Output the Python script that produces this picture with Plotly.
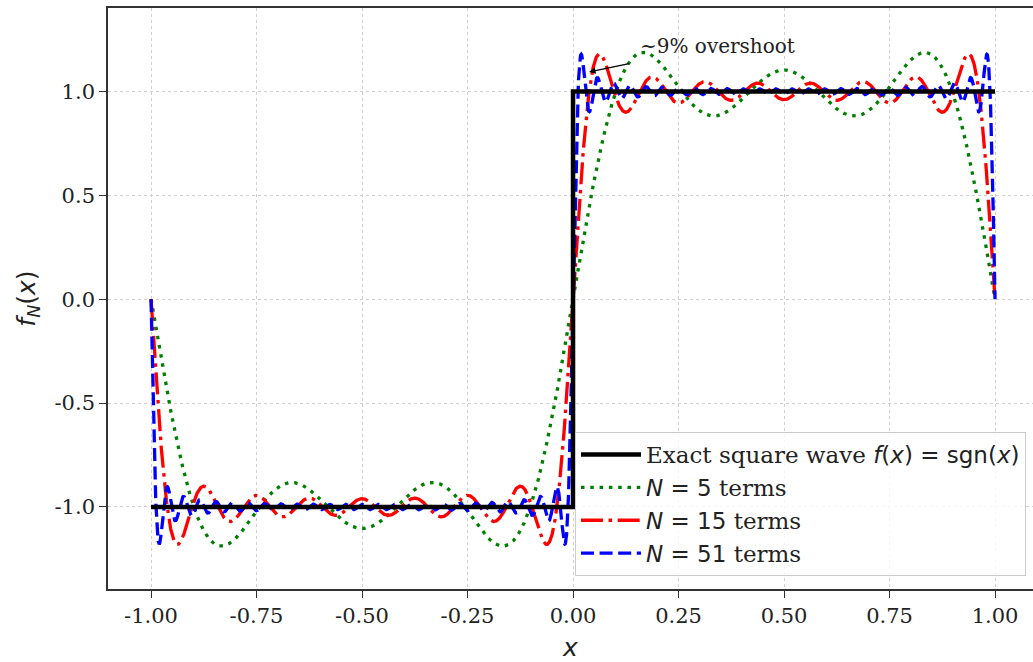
import numpy as np
import plotly.graph_objects as go

# ---- data ----
harmonics = [5, 15, 51]                 # highest odd harmonic kept (legend "N terms")
series_colors = ["green", "red", "blue"]
series_dash = ["3.5px,5.8px", "22px,5.6px,3.5px,5.6px", "13px,5.6px"]
step_x = [-1.0, 0.0, 0.0, 1.0]           # exact square wave sgn(x)
step_y = [-1.0, -1.0, 1.0, 1.0]
x_ticks = [-1.0, -0.75, -0.5, -0.25, 0.0, 0.25, 0.5, 0.75, 1.0]
x_tick_labels = ["-1.00", "-0.75", "-0.50", "-0.25", "0.00", "0.25", "0.50", "0.75", "1.00"]
y_ticks = [-1.0, -0.5, 0.0, 0.5, 1.0]
y_tick_labels = ["-1.0", "-0.5", "0.0", "0.5", "1.0"]

x = np.linspace(-1, 1, 4001)


def partial_sum(xv, N):
    s = np.zeros_like(xv)
    for n in range(1, N + 1, 2):
        s += np.sin(n * np.pi * xv) / n
    return 4 / np.pi * s


SERIF = "DejaVu Serif"
MATH = "DejaVu Sans"

fig = go.Figure()
for i, (N, c, d) in enumerate(zip(harmonics, series_colors, series_dash)):
    fig.add_trace(go.Scatter(
        x=x, y=partial_sum(x, N), mode="lines",
        line=dict(color=c, width=3.3, dash=d),
        name=f"<span style='font-family:{MATH}'><i>N</i> = {N}</span> terms",
        legendrank=10 + i,
    ))

fig.add_trace(go.Scatter(
    x=step_x, y=step_y, mode="lines",
    line=dict(color="black", width=4.5),
    name=f"Exact square wave <span style='font-family:{MATH}'><i>f</i>(<i>x</i>) = sgn(<i>x</i>)</span>",
    legendrank=1,
))

fig.add_annotation(x=0.038, y=1.094, ax=0.140, ay=1.137, axref="x", ayref="y",
                   xref="x", yref="y", text=" ", showarrow=True,
                   arrowhead=2, arrowsize=1, arrowwidth=1.3, arrowcolor="black")
fig.add_annotation(x=0.153, y=1.15, xref="x", yref="y", text="~9% overshoot",
                   showarrow=False, xanchor="left", yanchor="bottom",
                   font=dict(family=SERIF, size=20, color="#222"))

axis_common = dict(
    showline=True, linecolor="#333", linewidth=1.6,
    ticks="outside", ticklen=7, tickwidth=1.4, tickcolor="#333",
    showgrid=True, gridcolor="#cfcfcf", gridwidth=1, griddash="dot",
    zeroline=False, automargin=False,
    tickfont=dict(family=SERIF, size=21, color="#222"),
)

fig.update_layout(
    width=1033, height=662,
    margin=dict(l=108, r=0, t=8, b=73),
    paper_bgcolor="white", plot_bgcolor="white",
    showlegend=True,
    legend=dict(x=0.9924, y=0.0224, xanchor="right", yanchor="bottom",
                bgcolor="rgba(255,255,255,0.8)", bordercolor="#cccccc", borderwidth=1,
                font=dict(family=SERIF, size=23, color="#222"),
                tracegroupgap=2, itemwidth=60),
    xaxis=dict(range=[-1.102, 1.090], tickvals=x_ticks, ticktext=x_tick_labels,
               mirror=True,
               title=dict(text="<i>x</i>", font=dict(family=MATH, size=25, color="#222"), standoff=12),
               **axis_common),
    yaxis=dict(range=[-1.395, 1.402], tickvals=y_ticks, ticktext=y_tick_labels,
               title=dict(text="<i>f</i><sub><i>N</i></sub>(<i>x</i>)",
                          font=dict(family=MATH, size=25, color="#222"), standoff=12),
               **axis_common),
)

fig.write_html("out.html", config={"displayModeBar": False},
               post_script="document.body.style.margin='0';document.body.style.overflow='hidden';")
